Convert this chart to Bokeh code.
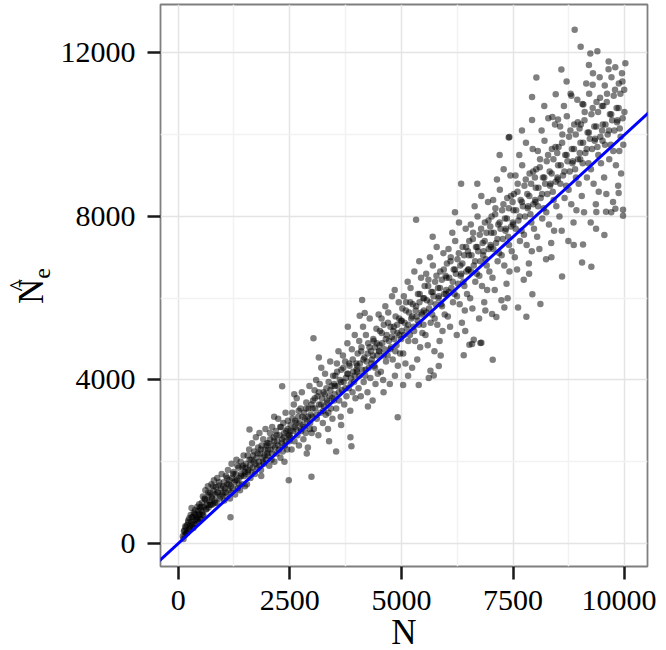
from bokeh.plotting import figure
from bokeh.models import FixedTicker, Slope, LinearAxis
from bokeh.embed import file_html
from bokeh.resources import INLINE

# ---- data (N, estimated N_e) ----
n_q1 = [105, 120, 140, 150, 170, 180, 200, 210, 225, 240, 250, 265, 280, 290, 300, 315, 330, 340, 350, 365,
        380, 390, 400, 415, 430, 440, 455, 470, 480, 495,
        505, 515, 530, 540, 555, 565, 580, 600, 610, 625, 640, 650, 665, 680, 690, 705, 720, 735, 745, 760,
        775, 790, 800, 815, 830, 845, 860, 875, 890, 905, 930, 960, 975, 990,
        1005, 1020, 1035, 1050, 1070, 1085, 1100, 1115, 1130, 1145, 1160, 1180, 1195, 1210, 1225, 1240,
        1260, 1275, 1290, 1305, 1320, 1335, 1350, 1370, 1385, 1400, 1415, 1430, 1450, 1465, 1480, 1495,
        1505, 1520, 1540, 1555, 1570, 1590, 1605, 1620, 1640, 1655, 1670, 1690, 1705, 1720, 1740, 1755,
        1770, 1790, 1805, 1820, 1840, 1855, 1870, 1890, 1905, 1920, 1940, 1955, 1970, 1985, 1995, 1860,
        2005, 2020, 2040, 2055, 2070, 2090, 2105, 2120, 2140, 2155, 2170, 2190, 2205, 2220, 2240, 2255,
        2270, 2290, 2305, 2320, 2340, 2355, 2370, 2390, 2405, 2420, 2440, 2455, 2470, 2490, 2150, 2380]
ne_q1 = [180, 110, 320, 200, 400, 260, 450, 300, 560, 350, 620, 420, 700, 520, 870, 460, 640, 380, 760, 560,
         820, 470, 690, 580, 900, 650, 540, 960, 720, 600,
         820, 600, 1000, 760, 1150, 700, 900, 1080, 1300, 830, 1050, 950, 1400, 880, 1180, 1020, 1250, 940, 1450, 1100,
         960, 1300, 1550, 1050, 1200, 1380, 1000, 1600, 1250, 1420, 1100, 1350, 1700, 1200,
         1250, 1500, 1050, 1350, 1650, 1150, 1450, 1800, 1300, 1550, 1100, 1400, 1950, 1600, 1350, 1750,
         1500, 1200, 1700, 2050, 1550, 1350, 1850, 1600, 1300, 2000, 1700, 1450, 1900, 2150, 1650, 1400,
         1700, 1950, 1450, 2150, 1800, 2300, 1900, 1600, 2050, 2450, 1850, 2000, 2250, 1700, 2600, 2100,
         1850, 2350, 2000, 2700, 2200, 1800, 2400, 2100, 2550, 1950, 2300, 2800, 2050, 2450, 2200, 1650,
         2150, 2450, 1900, 2700, 2300, 2050, 2850, 2400, 2600, 2000, 2350, 2750, 2200, 2500, 3050, 2300,
         2650, 2100, 2850, 2450, 2250, 2950, 2600, 2400, 3200, 2750, 2300, 3000, 2650, 2500, 3100, 2000]

n_q2 = [2505, 2520, 2540, 2555, 2570, 2590, 2605, 2620, 2640, 2655, 2670, 2690, 2705, 2720, 2740, 2755,
        2770, 2790, 2805, 2820, 2840, 2855, 2870, 2890, 2905, 2920, 2940, 2955, 2970, 2990, 2600, 2880,
        3005, 3020, 3040, 3055, 3070, 3090, 3105, 3120, 3140, 3155, 3170, 3190, 3205, 3220, 3240, 3255,
        3270, 3290, 3305, 3320, 3340, 3355, 3370, 3390, 3405, 3420, 3440, 3455, 3470, 3490, 3150, 3380,
        3505, 3520, 3540, 3555, 3570, 3590, 3605, 3620, 3640, 3655, 3670, 3690, 3705, 3720, 3740, 3755,
        3770, 3790, 3805, 3820, 3840, 3855, 3870, 3890, 3905, 3920, 3940, 3955, 3970, 3990, 3650, 3800,
        4005, 4020, 4040, 4055, 4070, 4090, 4105, 4120, 4140, 4155, 4170, 4190, 4205, 4220, 4240, 4255,
        4270, 4290, 4305, 4320, 4340, 4355, 4370, 4390, 4405, 4420, 4440, 4455, 4470, 4490, 4250, 4380,
        4505, 4520, 4540, 4555, 4570, 4590, 4605, 4620, 4640, 4655, 4670, 4690, 4705, 4720, 4740, 4755,
        4770, 4790, 4805, 4820, 4840, 4855, 4870, 4890, 4905, 4920, 4940, 4955, 4970, 4990, 4600, 4850]
ne_q2 = [2600, 2900, 2300, 3200, 2750, 3400, 2500, 3000, 2800, 3550, 2650, 3100, 2400, 2950, 3300, 2750,
         3700, 2900, 2550, 3200, 3050, 2700, 3450, 3000, 2350, 3300, 3850, 2950, 3150, 2700, 3650, 2200,
         3100, 3500, 2800, 3750, 3300, 4000, 3050, 3600, 2650, 3400, 3900, 3200, 4300, 3550, 2950, 3700,
         3350, 4150, 3150, 3800, 3450, 2800, 3950, 3600, 4450, 3300, 3850, 3050, 4100, 3500, 4550, 2500,
         3650, 4100, 3300, 4400, 3850, 4700, 3500, 4000, 3100, 4250, 3750, 4600, 3950, 3400, 4450, 4050,
         3600, 4900, 4150, 3800, 4350, 3250, 4050, 4750, 3700, 4200, 3950, 5100, 3550, 4400, 2900, 5300,
         4200, 4650, 3800, 4950, 4400, 3600, 4800, 4250, 5300, 3950, 4550, 4100, 5100, 4450, 3700, 4900,
         4300, 5500, 4050, 4700, 4500, 3500, 5000, 4350, 4800, 3900, 5250, 4600, 4150, 5600, 3350, 4950,
         4700, 5200, 4200, 5500, 4900, 4000, 5350, 4750, 5800, 4450, 5100, 4600, 5650, 4950, 3900, 5300,
         4800, 6050, 4500, 5200, 5000, 4100, 5550, 4850, 5350, 4350, 5900, 5100, 4650, 5450, 3700, 6200]

n_q3 = [5005, 5020, 5040, 5055, 5070, 5090, 5105, 5120, 5140, 5155, 5170, 5190, 5205, 5220, 5240, 5255,
        5270, 5290, 5305, 5320, 5340, 5355, 5370, 5390, 5405, 5420, 5440, 5455, 5470, 5490, 5150, 5400,
        5505, 5520, 5540, 5555, 5570, 5590, 5605, 5620, 5640, 5655, 5670, 5690, 5705, 5720, 5740, 5755,
        5770, 5790, 5805, 5820, 5840, 5855, 5870, 5890, 5905, 5920, 5940, 5955, 5970, 5990, 5700, 5880,
        6005, 6020, 6040, 6055, 6070, 6090, 6105, 6120, 6140, 6155, 6170, 6190, 6205, 6220, 6240, 6255,
        6270, 6290, 6305, 6320, 6340, 6355, 6370, 6390, 6405, 6420, 6440, 6455, 6470, 6490, 6200, 6430,
        6505, 6520, 6540, 6555, 6570, 6590, 6605, 6620, 6640, 6655, 6670, 6690, 6705, 6720, 6740, 6755,
        6770, 6790, 6805, 6820, 6840, 6855, 6870, 6890, 6905, 6920, 6940, 6955, 6970, 6990, 6700, 6880,
        7005, 7020, 7040, 7055, 7070, 7090, 7105, 7120, 7140, 7155, 7170, 7190, 7205, 7220, 7240, 7255,
        7270, 7290, 7305, 7320, 7340, 7355, 7370, 7390, 7405, 7420, 7440, 7455, 7470, 7490, 7200, 7380]
ne_q3 = [5200, 5750, 4650, 6050, 5400, 4400, 5900, 5250, 6400, 4950, 5650, 5100, 6250, 5500, 4300, 5850,
         5300, 6650, 4950, 5700, 5550, 4500, 6100, 5350, 5900, 4800, 6500, 5600, 5150, 6000, 4100, 6900,
         5700, 6300, 5100, 6600, 5950, 4850, 6450, 5750, 7000, 5400, 6150, 5600, 6800, 6050, 4700, 6400,
         5850, 7250, 5350, 6250, 6050, 4950, 6650, 5850, 6450, 5200, 7100, 6100, 5600, 6550, 7500, 4600,
         6200, 6850, 5550, 7200, 6500, 5300, 7000, 6250, 7600, 5900, 6700, 6100, 7400, 6600, 5100, 6950,
         6350, 7850, 5850, 6800, 6600, 5400, 7250, 6400, 7050, 5700, 7700, 6650, 6100, 7150, 8100, 5200,
         6700, 7400, 6000, 7800, 7050, 5750, 7600, 6800, 8250, 6400, 7250, 6600, 8000, 7150, 5500, 7550,
         6900, 8500, 6300, 7350, 7150, 5900, 7850, 6950, 7600, 6200, 8350, 7200, 6650, 7750, 8800, 5700,
         7250, 8000, 6500, 8400, 7600, 6200, 8200, 7350, 8900, 6900, 7800, 7100, 8650, 7700, 5950, 8150,
         7450, 9150, 6800, 7950, 7700, 6350, 8450, 7500, 8200, 6650, 9000, 7750, 7150, 8350, 9500, 6000]

n_q4 = [7505, 7520, 7540, 7555, 7570, 7590, 7605, 7620, 7640, 7655, 7670, 7690, 7705, 7720, 7740, 7755,
        7770, 7790, 7805, 7820, 7840, 7855, 7870, 7890, 7905, 7920, 7940, 7955, 7970, 7990, 7700, 7860,
        8005, 8020, 8040, 8055, 8070, 8090, 8105, 8120, 8140, 8155, 8170, 8190, 8205, 8220, 8240, 8255,
        8270, 8290, 8305, 8320, 8340, 8355, 8370, 8390, 8405, 8420, 8440, 8455, 8470, 8490, 8200, 8360,
        8505, 8520, 8540, 8555, 8570, 8590, 8605, 8620, 8640, 8655, 8670, 8690, 8705, 8720, 8740, 8755,
        8770, 8790, 8805, 8820, 8840, 8855, 8870, 8890, 8905, 8920, 8940, 8955, 8970, 8990, 8700, 8860,
        9005, 9020, 9040, 9055, 9070, 9090, 9105, 9120, 9140, 9155, 9170, 9190, 9205, 9220, 9240, 9255,
        9270, 9290, 9305, 9320, 9340, 9355, 9370, 9390, 9405, 9420, 9440, 9455, 9470, 9490, 9200, 9360,
        9505, 9520, 9540, 9555, 9570, 9590, 9605, 9620, 9640, 9655, 9670, 9690, 9705, 9720, 9740, 9755,
        9770, 9790, 9805, 9820, 9840, 9855, 9870, 9890, 9905, 9920, 9940, 9955, 9970, 9990, 9700, 9880]
ne_q4 = [7800, 8550, 7000, 9000, 8150, 6700, 8800, 7900, 9500, 7400, 8400, 7650, 9250, 8250, 6450, 8750,
         8000, 9800, 7300, 8550, 8250, 6850, 9050, 8050, 8800, 7150, 9650, 8300, 7700, 8950, 10100, 6600,
         8350, 9150, 7500, 9600, 8700, 7200, 9400, 8450, 10100, 7950, 8950, 8200, 9850, 8800, 6950, 9350,
         8550, 10400, 7800, 9100, 8800, 7350, 9650, 8600, 9400, 7650, 10250, 8850, 8250, 9550, 10700, 7000,
         8900, 9700, 8000, 10200, 9250, 7650, 10000, 9000, 10700, 8450, 9500, 8750, 10450, 9350, 7400, 9950,
         9100, 11000, 8300, 9650, 9350, 7850, 10250, 9150, 10000, 8150, 10850, 9400, 8800, 10150, 11300, 7300,
         9400, 10250, 8500, 10750, 9800, 8100, 10550, 9550, 11250, 8950, 10050, 9300, 11000, 9900, 7850, 10500,
         9650, 11500, 8800, 10200, 9900, 8300, 10800, 9700, 10550, 8600, 11400, 9950, 9300, 10700, 11700, 7700,
         9850, 10700, 8950, 11200, 10250, 8550, 11000, 10000, 11600, 9400, 10500, 9750, 11400, 10350, 8350, 10950,
         10100, 11650, 9250, 10650, 10350, 8750, 11250, 10150, 11000, 9050, 11500, 10400, 9750, 11100, 8100, 9600]

# points of the dense core, read bin by bin
n_core = [130, 160, 190, 230, 260, 310, 345, 370, 405, 445, 465, 490,
          520, 545, 590, 635, 670, 715, 750, 785, 820, 870, 915, 950,
          1010, 1060, 1095, 1140, 1190, 1230, 1280, 1325, 1360, 1410, 1440, 1490,
          1510, 1560, 1600, 1645, 1680, 1730, 1780, 1815, 1850, 1900, 1935, 1980,
          2010, 2060, 2100, 2150, 2200, 2245, 2285, 2330, 2375, 2410, 2450, 2495,
          2510, 2560, 2610, 2650, 2700, 2745, 2780, 2830, 2865, 2910, 2950, 2985,
          3010, 3060, 3100, 3150, 3200, 3250, 3285, 3330, 3365, 3410, 3450, 3495,
          3510, 3560, 3600, 3650, 3700, 3745, 3785, 3830, 3865, 3910, 3950, 3995,
          4010, 4060, 4100, 4150, 4200, 4245, 4285, 4330, 4365, 4410, 4450, 4495,
          4510, 4560, 4600, 4650, 4700, 4745, 4785, 4830, 4865, 4910, 4950, 4995,
          5010, 5060, 5100, 5150, 5200, 5245, 5285, 5330, 5365, 5410, 5450, 5495,
          5510, 5560, 5600, 5650, 5700, 5745, 5785, 5830, 5865, 5910, 5950, 5995,
          6010, 6060, 6100, 6150, 6200, 6245, 6285, 6330, 6365, 6410, 6450, 6495,
          6510, 6560, 6600, 6650, 6700, 6745, 6785, 6830, 6865, 6910, 6950, 6995,
          7010, 7060, 7100, 7150, 7200, 7245, 7285, 7330, 7365, 7410, 7450, 7495,
          7510, 7560, 7600, 7650, 7700, 7745, 7785, 7830, 7865, 7910, 7950, 7995,
          8010, 8060, 8100, 8150, 8200, 8245, 8285, 8330, 8365, 8410, 8450, 8495,
          8510, 8560, 8600, 8650, 8700, 8745, 8785, 8830, 8865, 8910, 8950, 8995,
          9010, 9060, 9100, 9150, 9200, 9245, 9285, 9330, 9365, 9410, 9450, 9495,
          9510, 9560, 9600, 9650, 9700, 9745, 9785, 9830, 9865, 9910, 9950, 9995]
ne_core = [300, 420, 250, 520, 380, 650, 480, 720, 600, 800, 700, 880,
           900, 700, 1100, 850, 1250, 950, 1150, 1400, 1000, 1250, 1500, 1150,
           1400, 1250, 1600, 1450, 1250, 1700, 1550, 1900, 1450, 1650, 1850, 1750,
           1850, 1750, 2050, 1750, 2150, 1950, 2200, 1900, 2300, 2000, 2150, 2400,
           2300, 2550, 2200, 2500, 2650, 2400, 2850, 2550, 2700, 2500, 2800, 2650,
           2750, 3050, 2850, 2950, 3250, 2800, 3100, 2850, 3300, 3100, 2800, 3400,
           3300, 3550, 3150, 3700, 3400, 3250, 3650, 3500, 3200, 3750, 3550, 3900,
           3850, 4200, 3700, 3950, 4300, 3800, 4150, 4400, 3900, 4500, 4100, 4250,
           4350, 4100, 4700, 4500, 4250, 4650, 4800, 4400, 4600, 4300, 4900, 4700,
           4850, 5150, 4600, 5000, 5400, 4750, 5050, 5300, 4700, 5150, 5500, 5000,
           5450, 5100, 5700, 5350, 5900, 5550, 5200, 5800, 5450, 6100, 5650, 5350,
           6000, 5650, 6300, 5900, 6150, 5500, 6550, 6000, 6250, 5800, 6700, 6100,
           6500, 6150, 6900, 6400, 6700, 6050, 7100, 6550, 6850, 6300, 7250, 6700,
           7050, 6650, 7450, 6900, 7250, 6550, 7700, 7050, 7400, 6800, 7900, 7300,
           7600, 7200, 8050, 7450, 7850, 7050, 8300, 7650, 7950, 7300, 8500, 7850,
           8150, 7700, 8600, 8000, 8350, 7550, 8900, 8200, 8500, 7850, 9100, 8400,
           8700, 8250, 9200, 8550, 8950, 8100, 9500, 8750, 9050, 8400, 9700, 8950,
           9250, 8800, 9800, 9100, 9500, 8650, 10100, 9300, 9650, 8950, 10300, 9550,
           9800, 9300, 10350, 9650, 10050, 9150, 10650, 9850, 10200, 9500, 10900, 10100,
           10250, 9750, 10800, 10100, 10500, 9600, 11100, 10300, 10650, 9950, 11300, 10550]

# isolated points read individually
n_extra = [8881, 9015, 9232, 9389, 9642, 10016, 8023, 8583, 7926, 8456, 8807, 9075, 9284, 7418, 7926, 8381,
           8508, 6337, 5329, 8598, 9046, 9254, 9546, 9866, 9792, 9964, 9964, 9366, 9583, 9068, 7045, 6791,
           6620, 6523, 6396, 5836, 5650, 5724, 5612, 5388, 5038, 8113, 7799, 7613, 7933, 7127, 7031, 7306,
           3030, 2329, 1597, 1171, 2985, 2477, 3538, 3880, 3858, 4917, 4120, 4178, 4066, 7403, 6769, 6583]
ne_extra = [12562, 12146, 11983, 12040, 11787, 11748, 11397, 11592, 10917, 10990, 10949, 10737, 11218, 9940, 10355, 10428,
            10370, 8798, 7918, 6533, 6875, 6770, 7545, 8571, 8187, 8163, 8016, 8106, 8114, 7315, 4497, 4912,
            4986, 4863, 4602, 4343, 4228, 4106, 4050, 3879, 3879, 5858, 5548, 5775, 6093, 5540, 5614, 5775,
            5018, 3845, 2786, 643, 1630, 1547, 2248, 2378, 2598, 3087, 5956, 5638, 5572, 9930, 4905, 4881]

x_ticks = [0, 2500, 5000, 7500, 10000]
x_minor = [1250, 3750, 6250, 8750]
y_ticks = [0, 4000, 8000, 12000]
y_minor = [2000, 6000, 10000]
x_title = "N"
y_title_main, y_title_hat, y_title_sub = "N", "^", "e"
ref_slope, ref_intercept = 1.0, 0.0

N = n_q1 + n_q2 + n_q3 + n_q4 + n_core + n_extra
Ne = ne_q1 + ne_q2 + ne_q3 + ne_q4 + ne_core + ne_extra
assert len(N) == len(Ne)

SERIF = "Liberation Serif"

p = figure(frame_width=487, frame_height=562,
           x_range=(-396, 10512), y_range=(-562, 13182),
           min_border_left=160, min_border_right=9, min_border_top=4, min_border_bottom=80,
           x_axis_label=x_title,
           output_backend="svg", toolbar_location=None)
p.background_fill_color = "white"
p.border_fill_color = "white"
p.outline_line_color = "#7f7f7f"
p.outline_line_width = 1.8

p.xaxis.ticker = FixedTicker(ticks=x_ticks, minor_ticks=x_minor)
p.yaxis.ticker = FixedTicker(ticks=y_ticks, minor_ticks=y_minor)
for ax in (p.xaxis[0], p.yaxis[0]):
    ax.axis_line_color = None
    ax.major_tick_line_color = "#1a1a1a"
    ax.major_tick_line_width = 2.5
    ax.major_tick_out = 13
    ax.major_tick_in = 0
    ax.minor_tick_line_color = None
    ax.major_label_text_font = SERIF
    ax.major_label_text_font_size = "30px"
    ax.major_label_text_color = "black"
    ax.axis_label_text_font = SERIF
    ax.axis_label_text_font_style = "normal"
    ax.axis_label_text_color = "black"
p.xaxis.major_label_standoff = 11
p.yaxis.major_label_standoff = 12
p.xaxis.axis_label_standoff = 0
p.xaxis.axis_label_text_font_size = "35px"

# y title  N-hat with subscript e, built from stacked axis labels
p.yaxis.axis_label = "\u2003" + y_title_sub
p.yaxis.axis_label_text_font_size = "24px"
p.yaxis.axis_label_standoff = 3


def title_axis(text, size, standoff):
    a = LinearAxis(ticker=FixedTicker(ticks=[]), axis_label=text,
                   axis_line_color=None, major_tick_line_color=None, minor_tick_line_color=None,
                   major_tick_out=0, major_tick_in=0, minor_tick_out=0, minor_tick_in=0,
                   major_label_standoff=0, axis_label_standoff=standoff,
                   axis_label_text_font=SERIF, axis_label_text_font_size=size,
                   axis_label_text_font_style="normal", axis_label_text_color="black")
    p.add_layout(a, "left")


title_axis(y_title_main + "\u2004", "35px", -25)
title_axis(y_title_hat, "26px", -24)

for g in (p.xgrid[0], p.ygrid[0]):
    g.grid_line_color = "#e4e4e4"
    g.grid_line_width = 1.5
    g.minor_grid_line_color = "#f2f2f2"
    g.minor_grid_line_width = 1.5

p.scatter(N, Ne, size=6.5, fill_color="black", fill_alpha=0.5, line_color=None)
p.add_layout(Slope(gradient=ref_slope, y_intercept=ref_intercept, line_color="#0000ff", line_width=3))

open("out.html", "w").write(file_html(p, INLINE))
